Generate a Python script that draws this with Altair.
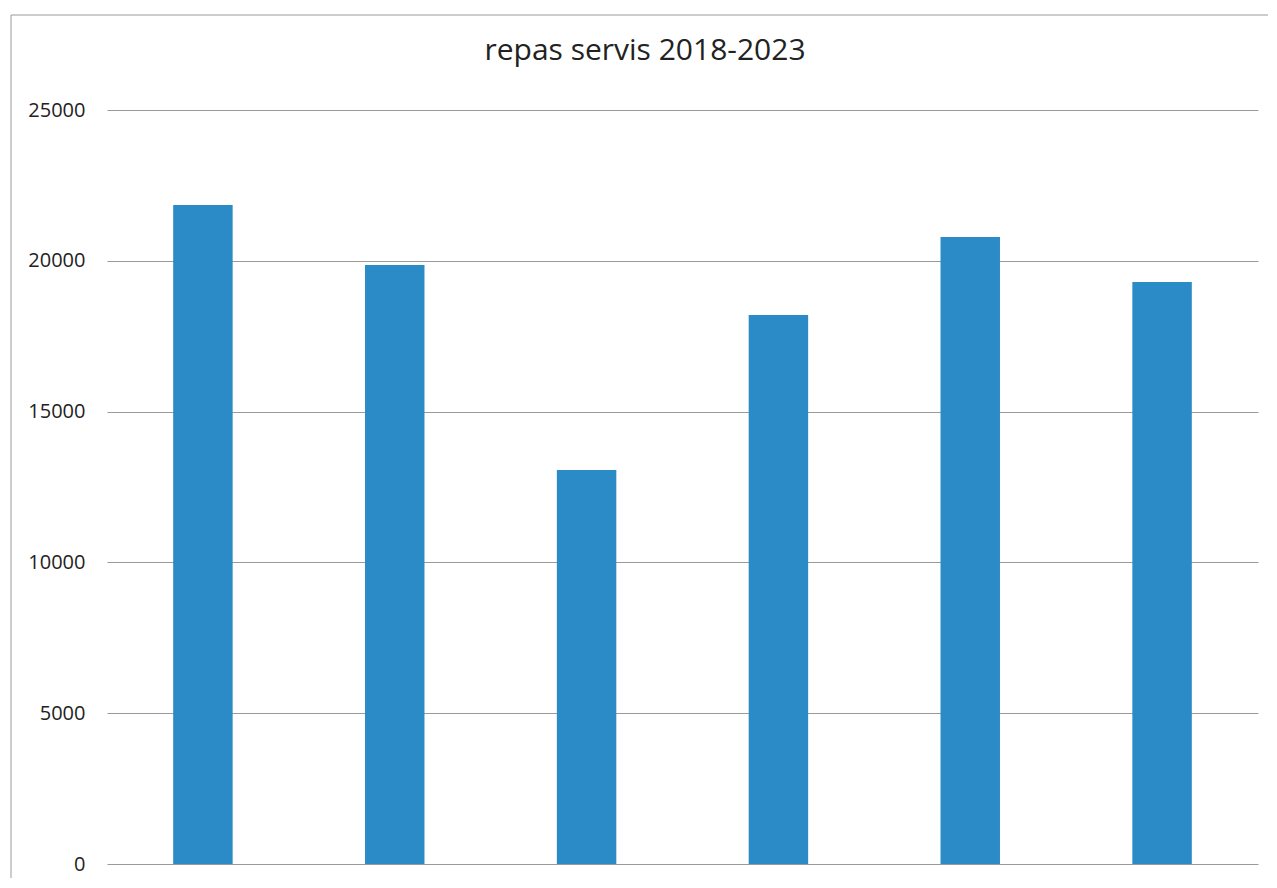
import altair as alt
import pandas as pd

years = ["2018", "2019", "2020", "2021", "2022", "2023"]
meals = [21850, 19860, 13060, 18200, 20790, 19300]
tick_values = [0, 5000, 10000, 15000, 20000, 25000]
title_text = ["repas servis 2018-2023"]

df = pd.DataFrame({"year": years, "meals": meals})
tdf = pd.DataFrame({"t": title_text})

W, H = 1151, 754

bars = alt.Chart(df).mark_bar(color="#2A8BC6").encode(
    x=alt.X("year:N", sort=years,
            scale=alt.Scale(paddingInner=0.69, paddingOuter=0.345),
            axis=alt.Axis(labels=False, ticks=False, domain=False, title=None, grid=False)),
    y=alt.Y("meals:Q",
            scale=alt.Scale(domain=[0, 25000], nice=False),
            axis=alt.Axis(values=tick_values, format="d", title=None, grid=True,
                          gridColor="#9a9a9a", gridWidth=1, domain=False, ticks=False,
                          labelPadding=22, labelFontSize=20, labelFont="Open Sans",
                          labelColor="#222222")),
)

top_line = alt.Chart(tdf).mark_rule(stroke="#9a9a9a", strokeWidth=1, clip=False).encode(
    x=alt.value(-96), x2=alt.value(W + 20), y=alt.value(-95),
)
left_line = alt.Chart(tdf).mark_rule(stroke="#9a9a9a", strokeWidth=1, clip=False).encode(
    x=alt.value(-96), y=alt.value(-95), y2=alt.value(H + 40),
)

title = alt.Chart(tdf).mark_text(font="Open Sans", fontSize=30, color="#222222",
                                 align="center", baseline="alphabetic", clip=False).encode(
    text="t:N", x=alt.value(538), y=alt.value(-50),
)

chart = alt.layer(top_line, left_line, bars, title).properties(
    width=W, height=H,
    autosize=alt.AutoSizeParams(type="none"),
    padding={"left": 99, "top": 102, "right": 10, "bottom": 14},
).configure_view(stroke=None)

chart.save("out.html", embed_options={"renderer": "svg", "actions": False})
